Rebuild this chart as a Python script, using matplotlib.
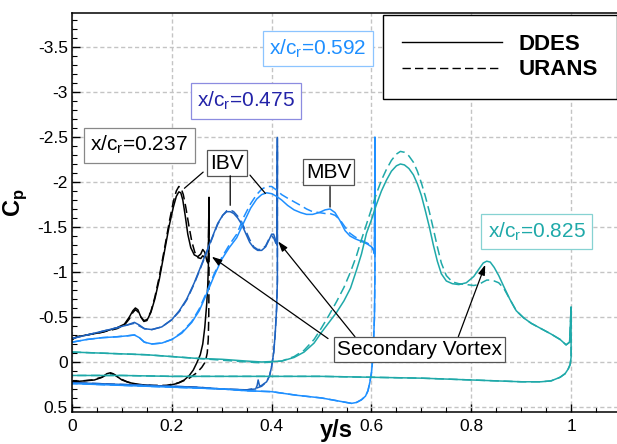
import numpy as np
import matplotlib
matplotlib.use("Agg")
import matplotlib.pyplot as plt
from matplotlib.lines import Line2D
from matplotlib.ticker import MultipleLocator

plt.rcParams['font.family'] = ['Liberation Sans', 'DejaVu Sans']
plt.rcParams['mathtext.fontset'] = 'custom'
plt.rcParams['mathtext.rm'] = 'Liberation Sans'
plt.rcParams['mathtext.bf'] = 'Liberation Sans:bold'
plt.rcParams['axes.unicode_minus'] = False

# %% data: closed Cp loops (upper surface -> leading edge -> lower surface)
# x/c_r = 0.237
y_237_ddes = [0.000, 0.010, 0.030, 0.060, 0.090, 0.105, 0.115, 0.122, 0.127, 0.132, 0.138, 0.144,
              0.150, 0.158, 0.166, 0.175, 0.185, 0.195, 0.203, 0.209, 0.214, 0.218, 0.222, 0.227,
              0.232, 0.238, 0.245, 0.252, 0.258, 0.262, 0.266, 0.270, 0.273,
              0.2745, 0.274, 0.272, 0.270, 0.266, 0.262, 0.257, 0.250, 0.243, 0.235, 0.225, 0.210,
              0.195, 0.175, 0.155, 0.135, 0.115, 0.100, 0.090, 0.082, 0.077, 0.070, 0.060, 0.045,
              0.025, 0.000]
cp_237_ddes = [-0.25, -0.28, -0.30, -0.33, -0.38, -0.42, -0.50, -0.57, -0.60, -0.58, -0.50, -0.45,
               -0.46, -0.55, -0.70, -0.92, -1.22, -1.52, -1.72, -1.84, -1.89, -1.88, -1.80, -1.62,
               -1.42, -1.27, -1.19, -1.17, -1.20, -1.25, -1.22, -1.13, -1.10,
               -1.83, -1.20, -0.85, -0.65, -0.38, -0.20, -0.08, 0.01, 0.09, 0.15, 0.20, 0.24,
               0.26, 0.27, 0.26, 0.25, 0.23, 0.20, 0.16, 0.13, 0.12, 0.13, 0.17, 0.20,
               0.21, 0.22]
y_237_urans = [0.000, 0.010, 0.030, 0.060, 0.090, 0.105, 0.115, 0.122, 0.127, 0.132, 0.138, 0.144,
               0.150, 0.158, 0.166, 0.175, 0.185, 0.195, 0.203, 0.209, 0.214, 0.218, 0.223, 0.228,
               0.234, 0.240, 0.246, 0.252, 0.258, 0.262, 0.266, 0.270, 0.273,
               0.2745, 0.2745, 0.274, 0.273, 0.271, 0.267, 0.260, 0.250, 0.235, 0.215, 0.190, 0.160,
               0.130, 0.110, 0.095, 0.085, 0.078, 0.070, 0.060, 0.040, 0.000]
cp_237_urans = [-0.25, -0.28, -0.30, -0.33, -0.37, -0.41, -0.48, -0.55, -0.58, -0.56, -0.50, -0.46,
                -0.47, -0.56, -0.72, -0.95, -1.25, -1.56, -1.78, -1.90, -1.95, -1.94, -1.86, -1.72,
                -1.52, -1.34, -1.22, -1.16, -1.15, -1.18, -1.16, -1.12, -1.10,
                -1.83, -0.90, -0.50, -0.25, -0.10, 0.00, 0.06, 0.12, 0.18, 0.23, 0.26, 0.26,
                0.25, 0.22, 0.18, 0.14, 0.13, 0.14, 0.17, 0.20, 0.22]

# x/c_r = 0.475
y_475_ddes = [0.000, 0.030, 0.060, 0.090, 0.110, 0.125, 0.135, 0.145, 0.160, 0.180, 0.200, 0.215,
              0.230, 0.245, 0.258, 0.270, 0.282, 0.292, 0.302, 0.310, 0.317, 0.324, 0.332, 0.340,
              0.348, 0.356, 0.364, 0.372, 0.380, 0.388, 0.395, 0.400, 0.404, 0.407, 0.409, 0.411,
              0.4115, 0.4115, 0.410, 0.407, 0.404, 0.400, 0.396, 0.390, 0.380, 0.376, 0.373, 0.371,
              0.368, 0.350, 0.300, 0.250, 0.200, 0.150, 0.100, 0.050, 0.000]
cp_475_ddes = [-0.26, -0.30, -0.34, -0.38, -0.41, -0.44, -0.41, -0.37, -0.36, -0.39, -0.47, -0.57,
               -0.70, -0.88, -1.06, -1.23, -1.40, -1.54, -1.63, -1.67, -1.67, -1.65, -1.60, -1.53,
               -1.43, -1.33, -1.27, -1.24, -1.24, -1.28, -1.36, -1.42, -1.42, -1.37, -1.32, -1.30,
               -2.40, -0.90, -0.60, -0.30, -0.10, 0.05, 0.15, 0.22, 0.26, 0.27, 0.20, 0.26,
               0.30, 0.31, 0.30, 0.28, 0.27, 0.26, 0.25, 0.24, 0.23]
y_475_urans = [0.000, 0.030, 0.060, 0.090, 0.110, 0.125, 0.135, 0.145, 0.160, 0.180, 0.200, 0.215,
               0.230, 0.245, 0.258, 0.270, 0.282, 0.292, 0.302, 0.310, 0.317, 0.324, 0.332, 0.340,
               0.348, 0.356, 0.364, 0.372, 0.380, 0.388, 0.395, 0.400, 0.404, 0.407, 0.409, 0.411,
               0.4115, 0.4115, 0.410, 0.407, 0.404, 0.400, 0.396, 0.390, 0.380, 0.370, 0.350, 0.300,
               0.250, 0.200, 0.150, 0.100, 0.050, 0.000]
cp_475_urans = [-0.26, -0.30, -0.34, -0.38, -0.41, -0.43, -0.40, -0.37, -0.36, -0.39, -0.47, -0.56,
                -0.69, -0.87, -1.05, -1.22, -1.39, -1.53, -1.63, -1.68, -1.69, -1.67, -1.62, -1.55,
                -1.46, -1.36, -1.28, -1.25, -1.25, -1.29, -1.37, -1.40, -1.38, -1.34, -1.31, -1.30,
                -2.52, -0.90, -0.60, -0.30, -0.10, 0.05, 0.15, 0.22, 0.27, 0.29, 0.31, 0.30,
                0.28, 0.27, 0.26, 0.25, 0.24, 0.23]

# x/c_r = 0.592
y_592_ddes = [0.000, 0.030, 0.060, 0.090, 0.110, 0.125, 0.135, 0.145, 0.160, 0.180, 0.200, 0.220,
              0.240, 0.255, 0.270, 0.285, 0.300, 0.315, 0.330, 0.345, 0.358, 0.370, 0.380, 0.390,
              0.400, 0.410, 0.420, 0.432, 0.445, 0.458, 0.470, 0.482, 0.495, 0.507, 0.517, 0.527,
              0.537, 0.547, 0.557, 0.567, 0.580, 0.592, 0.600, 0.604, 0.606,
              0.607, 0.607, 0.606, 0.604, 0.602, 0.600, 0.597, 0.593, 0.588, 0.580, 0.570, 0.560,
              0.550, 0.500, 0.450, 0.400, 0.350, 0.300, 0.200, 0.100, 0.050, 0.000]
cp_592_ddes = [-0.22, -0.25, -0.27, -0.28, -0.29, -0.30, -0.27, -0.22, -0.20, -0.21, -0.25, -0.32,
               -0.44, -0.57, -0.76, -0.96, -1.14, -1.27, -1.38, -1.56, -1.71, -1.81, -1.86, -1.88,
               -1.87, -1.84, -1.80, -1.74, -1.69, -1.66, -1.64, -1.64, -1.66, -1.69, -1.70, -1.66,
               -1.57, -1.46, -1.40, -1.37, -1.34, -1.31, -1.28, -1.24, -1.20,
               -2.50, -1.00, -0.50, -0.20, 0.00, 0.12, 0.22, 0.32, 0.38, 0.42, 0.45, 0.46,
               0.45, 0.40, 0.37, 0.33, 0.32, 0.30, 0.28, 0.26, 0.25, 0.24]
y_592_urans = [0.000, 0.030, 0.060, 0.090, 0.110, 0.125, 0.135, 0.145, 0.160, 0.180, 0.200, 0.220,
               0.240, 0.255, 0.270, 0.285, 0.300, 0.315, 0.330, 0.345, 0.358, 0.370, 0.380, 0.390,
               0.400, 0.410, 0.420, 0.432, 0.445, 0.458, 0.470, 0.482, 0.495, 0.507, 0.517, 0.527,
               0.537, 0.547, 0.557, 0.567, 0.580, 0.592, 0.600, 0.604, 0.606,
               0.607, 0.607, 0.606, 0.604, 0.602, 0.600, 0.597, 0.593, 0.588, 0.580, 0.570, 0.560,
               0.550, 0.500, 0.450, 0.400, 0.350, 0.300, 0.200, 0.100, 0.050, 0.000]
cp_592_urans = [-0.22, -0.25, -0.27, -0.28, -0.29, -0.30, -0.27, -0.22, -0.20, -0.21, -0.25, -0.33,
                -0.45, -0.59, -0.78, -0.98, -1.16, -1.30, -1.42, -1.62, -1.76, -1.86, -1.92, -1.95,
                -1.95, -1.91, -1.86, -1.82, -1.78, -1.74, -1.70, -1.67, -1.66, -1.65, -1.65, -1.63,
                -1.58, -1.50, -1.43, -1.39, -1.35, -1.32, -1.29, -1.25, -1.21,
                -2.50, -1.00, -0.50, -0.20, 0.00, 0.12, 0.22, 0.32, 0.38, 0.42, 0.45, 0.46,
                0.45, 0.40, 0.37, 0.33, 0.32, 0.30, 0.28, 0.26, 0.25, 0.24]

# x/c_r = 0.825
y_825_ddes = [0.000, 0.050, 0.100, 0.150, 0.200, 0.250, 0.300, 0.350, 0.380, 0.420, 0.445, 0.465,
              0.485, 0.500, 0.515, 0.530, 0.545, 0.558, 0.570, 0.580, 0.590, 0.600, 0.610, 0.620,
              0.630, 0.640, 0.650, 0.658, 0.666, 0.675, 0.684, 0.692, 0.700, 0.708, 0.716, 0.724,
              0.732, 0.740, 0.750, 0.762, 0.775, 0.790, 0.805, 0.815, 0.824, 0.831, 0.838, 0.846,
              0.855, 0.865, 0.877, 0.890, 0.905, 0.920, 0.940, 0.960, 0.978, 0.990, 0.997,
              1.000, 1.000, 0.998, 0.994, 0.988, 0.978, 0.960, 0.940, 0.900, 0.850, 0.800, 0.700,
              0.600, 0.500, 0.400, 0.300, 0.200, 0.100, 0.000]
cp_825_ddes = [-0.11, -0.10, -0.09, -0.08, -0.06, -0.04, -0.03, -0.01, 0.00, -0.01, -0.05, -0.11,
               -0.21, -0.33, -0.44, -0.55, -0.68, -0.82, -1.02, -1.20, -1.43, -1.58, -1.75, -1.90,
               -2.02, -2.12, -2.18, -2.20, -2.19, -2.15, -2.08, -1.98, -1.85, -1.68, -1.50, -1.30,
               -1.12, -0.98, -0.90, -0.87, -0.86, -0.88, -0.95, -1.03, -1.10, -1.12, -1.11, -1.05,
               -0.96, -0.84, -0.70, -0.57, -0.49, -0.43, -0.37, -0.31, -0.25, -0.19, -0.22,
               -0.61, -0.05, 0.03, 0.08, 0.13, 0.17, 0.21, 0.22, 0.22, 0.21, 0.20, 0.18,
               0.17, 0.16, 0.16, 0.16, 0.16, 0.15, 0.15]
y_825_urans = [0.000, 0.050, 0.100, 0.150, 0.200, 0.250, 0.300, 0.350, 0.380, 0.420, 0.445, 0.465,
               0.485, 0.500, 0.515, 0.530, 0.545, 0.558, 0.570, 0.580, 0.590, 0.600, 0.610, 0.620,
               0.630, 0.640, 0.650, 0.658, 0.666, 0.675, 0.684, 0.692, 0.700, 0.708, 0.716, 0.724,
               0.732, 0.740, 0.750, 0.762, 0.775, 0.790, 0.805, 0.815, 0.824, 0.831, 0.838, 0.846,
               0.855, 0.865, 0.877, 0.890, 0.905, 0.920, 0.940, 0.960, 0.978, 0.990, 0.997,
               1.000, 1.000, 0.998, 0.994, 0.988, 0.978, 0.960, 0.940, 0.900, 0.850, 0.800, 0.700,
               0.600, 0.500, 0.400, 0.300, 0.200, 0.100, 0.000]
cp_825_urans = [-0.11, -0.10, -0.09, -0.08, -0.06, -0.04, -0.02, 0.00, 0.01, -0.01, -0.06, -0.13,
                -0.25, -0.38, -0.52, -0.67, -0.83, -1.00, -1.18, -1.36, -1.53, -1.70, -1.87, -2.02,
                -2.14, -2.24, -2.31, -2.34, -2.33, -2.29, -2.22, -2.12, -1.99, -1.84, -1.67, -1.48,
                -1.28, -1.10, -0.96, -0.89, -0.87, -0.86, -0.85, -0.86, -0.89, -0.91, -0.91, -0.90,
                -0.88, -0.82, -0.70, -0.57, -0.49, -0.43, -0.37, -0.31, -0.25, -0.19, -0.22,
                -0.61, -0.05, 0.03, 0.08, 0.13, 0.17, 0.21, 0.22, 0.22, 0.21, 0.20, 0.18,
                0.17, 0.16, 0.16, 0.16, 0.16, 0.15, 0.15]

stations = ['0.237', '0.475', '0.592', '0.825']
colors = ['black', '#1f63c0', '#1e8fff', '#1fa9a9']
label_colors = ['black', '#2323a8', '#1e8fff', '#1fa9a9']
box_colors = ['#888888', '#8c8ce0', '#8cc4ff', '#86d2d2']
label_pos = [(0.135, -2.41), (0.349, -2.90), (0.493, -3.48), (0.931, -1.45)]

ddes = [(y_237_ddes, cp_237_ddes), (y_475_ddes, cp_475_ddes),
        (y_592_ddes, cp_592_ddes), (y_825_ddes, cp_825_ddes)]
urans = [(y_237_urans, cp_237_urans), (y_475_urans, cp_475_urans),
         (y_592_urans, cp_592_urans), (y_825_urans, cp_825_urans)]

# %% figure
fig = plt.figure(figsize=(6.17, 4.44), dpi=100)
ax = fig.add_axes([72/617, 32/444, 549/617, 399/444])

dash = (0, (6, 3))
for (yd, cd), (yu, cu), c in zip(ddes, urans, colors):
    ax.plot(yu, cu, color=c, lw=1.1, ls=dash)
    ax.plot(yd, cd, color=c, lw=1.1)

ax.set_xlim(0, 1.1)
ax.set_ylim(0.556, -3.878)
ax.set_xticks([0, 0.2, 0.4, 0.6, 0.8, 1.0])
ax.set_xticklabels(['0', '0.2', '0.4', '0.6', '0.8', '1'])
yt = [-3.5, -3, -2.5, -2, -1.5, -1, -0.5, 0, 0.5]
ax.set_yticks(yt)
ax.set_yticklabels(['-3.5', '-3', '-2.5', '-2', '-1.5', '-1', '-0.5', '0', '0.5'])
ax.xaxis.set_minor_locator(MultipleLocator(0.05))
ax.yaxis.set_minor_locator(MultipleLocator(0.1))
ax.tick_params(which='both', direction='in', top=False, right=False, labelsize=12.5)
ax.tick_params(which='major', length=6, width=1.0)
ax.tick_params(which='minor', length=3.5, width=0.8)
ax.tick_params(axis='x', pad=5)
ax.tick_params(axis='y', pad=3)
for s in ax.spines.values():
    s.set_linewidth(1.1)
ax.grid(True, which='major', color='#c4c4c4', ls=(0, (3, 2)), lw=1.0)
ax.set_axisbelow(True)

# station labels
for st, (lx, ly), tc, bc in zip(stations, label_pos, label_colors, box_colors):
    ax.text(lx, ly, r'x/c$_\mathrm{r}$=' + st, color=tc, fontsize=15, ha='center', va='center',
            bbox=dict(boxstyle='square,pad=0.3', fc='white', ec=bc, lw=0.9))

# IBV / MBV
ax.text(0.31, -2.21, 'IBV', fontsize=15, ha='center', va='center',
        bbox=dict(boxstyle='square,pad=0.15', fc='white', ec='#555555', lw=0.9))
for p0, p1 in [((0.267, -2.13), (0.221, -1.91)), ((0.317, -2.10), (0.317, -1.71)),
               ((0.353, -2.10), (0.391, -1.85))]:
    ax.annotate('', xy=p1, xytext=p0, arrowprops=dict(arrowstyle='-', color='black', lw=0.9))
ax.text(0.514, -2.11, 'MBV', fontsize=15, ha='center', va='center',
        bbox=dict(boxstyle='square,pad=0.15', fc='white', ec='#555555', lw=0.9))
ax.annotate('', xy=(0.517, -1.69), xytext=(0.517, -1.98),
            arrowprops=dict(arrowstyle='-', color='black', lw=0.9))

# Secondary vortex
for p0, p1 in [((0.513, -0.26), (0.280, -1.17)), ((0.567, -0.28), (0.413, -1.34)),
               ((0.774, -0.28), (0.828, -1.08))]:
    ax.annotate('', xy=p1, xytext=p0,
                arrowprops=dict(arrowstyle='-|>,head_length=0.6,head_width=0.2', color='black',
                                lw=0.9, shrinkA=0, shrinkB=0))
ax.text(0.697, -0.14, 'Secondary Vortex', fontsize=15, ha='center', va='center',
        bbox=dict(boxstyle='square,pad=0.15', fc='white', ec='#555555', lw=0.9))

# legend
handles = [Line2D([], [], color='black', lw=1.0),
           Line2D([], [], color='black', lw=1.0, ls=dash)]
leg = ax.legend(handles, ['DDES', 'URANS'], loc='upper left',
                bbox_to_anchor=(383/617, 1 - 15/444), bbox_transform=fig.transFigure,
                borderaxespad=0, prop=dict(weight='bold', size=16), handlelength=4.5,
                handletextpad=0.75, borderpad=0.85, labelspacing=0.2, fancybox=False,
                framealpha=1, edgecolor='black')
leg.get_frame().set_linewidth(1.0)

fig.text(15/617, 1 - 203/444, r'C$_\mathbf{p}$', rotation=90, fontsize=17, fontweight='bold',
         ha='center', va='center')
fig.text(336/617, 1 - 437/444, 'y/s', fontsize=17, fontweight='bold', ha='center', va='baseline')

fig.savefig('out.png', dpi=100)
